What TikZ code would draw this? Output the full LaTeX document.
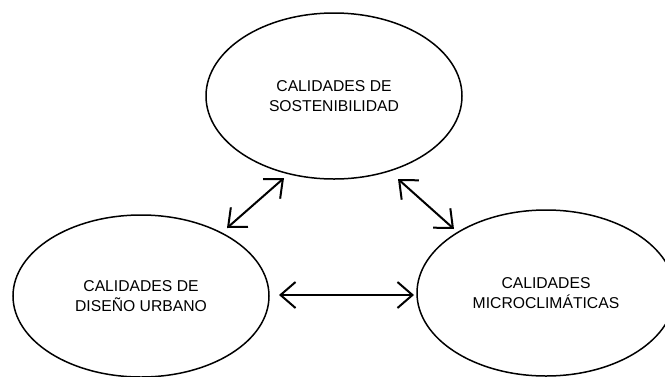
\documentclass[tikz,border=0pt]{standalone}
\usepackage{fontspec}
\setmainfont{Liberation Sans}
\usetikzlibrary{shapes.geometric,arrows.meta}
\begin{document}
\begin{tikzpicture}[x=1pt,y=-1pt,
  oval/.style={draw,ellipse,line width=1.5pt,inner sep=0pt,minimum width=256pt,minimum height=166pt,align=center,font=\fontsize{15.7}{20}\selectfont},
  link/.style={line width=2pt,{Straight Barb[length=15pt,width=26pt,line width=2pt]}-{Straight Barb[length=15pt,width=26pt,line width=2pt]}}]
\useasboundingbox (0,0) rectangle (665,376);
\node[oval] (sost) at (334,96) {CALIDADES DE\\SOSTENIBILIDAD};
\node[oval,minimum height=162pt] (urb) at (141,296) {CALIDADES DE\\DISEÑO URBANO};
\node[oval,minimum width=258pt] (micro) at (546,293) {CALIDADES\\MICROCLIMÁTICAS};
\coordinate (a1) at (227,228);
\coordinate (a2) at (284,178);
\coordinate (b1) at (398,179);
\coordinate (b2) at (454,229);
\coordinate (c1) at (279,295);
\coordinate (c2) at (414,295);
\draw[link] (a1) -- (a2);
\draw[link] (b1) -- (b2);
\draw[link] (c1) -- (c2);
\end{tikzpicture}
\end{document}
